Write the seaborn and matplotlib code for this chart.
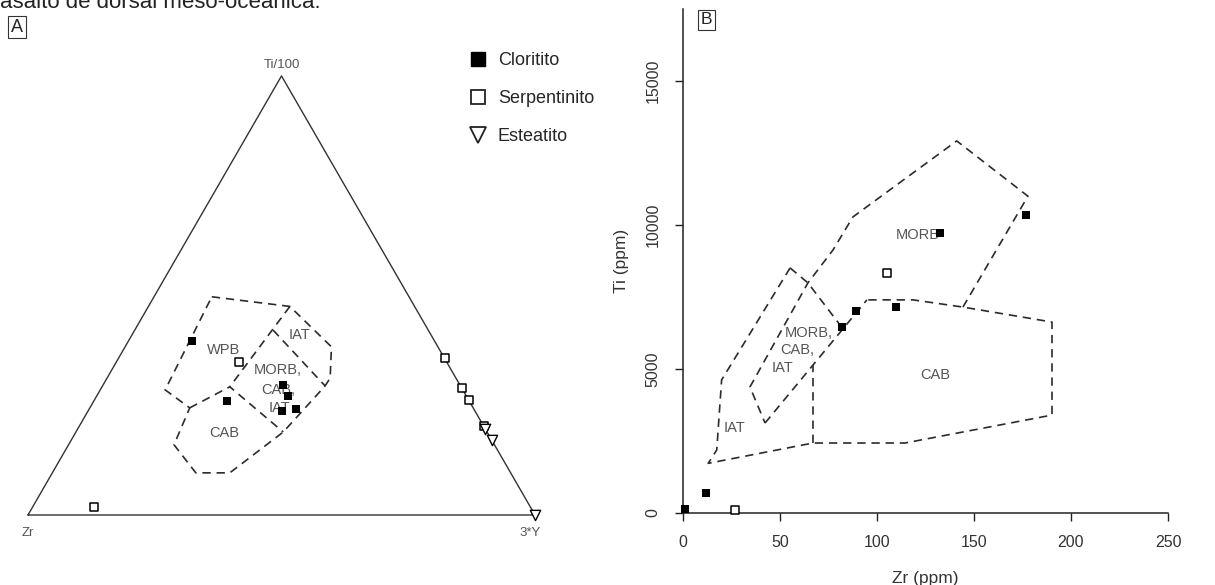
import numpy as np
import pandas as pd
import matplotlib
matplotlib.use("Agg")
import matplotlib.pyplot as plt
from matplotlib.lines import Line2D
import seaborn as sns

# ---- panel A: Ti/100 - Zr - 3*Y ternary (proportions in %) ----
# order of each list: Zr, Ti/100, 3*Y
clor_a_zr = [47.9, 47.7, 34.9, 35.1, 38.1, 35.0]
clor_a_ti = [39.7, 26.0, 29.6, 27.1, 23.7, 24.1]
clor_a_y = [12.4, 26.3, 35.5, 37.8, 38.2, 40.9]

serp_a_zr = [40.9, 86.1, 0.0, 0.0, 0.0, 0.0]
serp_a_ti = [34.9, 1.8, 35.7, 28.9, 26.2, 20.3]
serp_a_y = [24.2, 12.1, 64.3, 71.1, 73.8, 79.7]

este_a_zr = [0.0, 0.0, 0.0]
este_a_ti = [19.7, 17.1, 0.0]
este_a_y = [80.3, 82.9, 100.0]

# field boundaries (Pearce & Cann 1973), ternary %
outer_zr = [38.9, 24.6, 21.0, 24.8, 26.7, 40.2, 48.7, 55.4, 62.1, 63.2, 55.9, 58.7, 38.9]
outer_ti = [49.7, 47.5, 38.3, 31.2, 29.4, 18.9, 13.7, 9.6, 9.6, 16.0, 24.4, 28.5, 49.7]
outer_y = [11.4, 27.9, 40.7, 44.0, 43.9, 40.9, 37.6, 35.0, 28.3, 20.8, 19.7, 12.8, 11.4]

wpb_sep_zr = [24.6, 45.6]
wpb_sep_ti = [47.5, 29.2]
wpb_sep_y = [27.9, 25.2]

cab_top_zr = [55.9, 45.6, 40.2]
cab_top_ti = [24.4, 29.2, 18.9]
cab_top_y = [19.7, 25.2, 40.9]

iat_sep_zr = [30.6, 26.7]
iat_sep_ti = [42.1, 29.4]
iat_sep_y = [27.3, 43.9]

field_a_labels = ["WPB", "IAT", "MORB,", "CAB,", "IAT", "CAB"]
field_a_zr = [42.7, 26.0, 34.2, 36.5, 38.1, 52.0]
field_a_ti = [37.6, 41.0, 33.0, 28.5, 24.4, 18.7]
field_a_y = [19.7, 32.9, 32.8, 35.1, 37.5, 29.3]

# ---- panel B: Ti vs Zr (ppm) ----
clor_b_zr = [1, 12, 82, 89, 110, 132.5, 177]
clor_b_ti = [150, 700, 6450, 7020, 7140, 9720, 10350]
serp_b_zr = [105, 27]
serp_b_ti = [8340, 100]

outer_b_zr = [55.2, 19.9, 17.4, 13.0, 67, 114.4, 190.2, 190.2, 144.3, 118.6, 94.8]
outer_b_ti = [8510, 4620, 2190, 1725, 2430, 2430, 3400, 6630, 7150, 7400, 7400]
sep_b_zr = [42.3, 94.8]
sep_b_ti = [3125, 7400]
vert_b_zr = [67, 67]
vert_b_ti = [2430, 5150]
morb_b_zr = [144.3, 177.8, 141.1, 87.6, 77.3, 64.4, 34.5, 42.3]
morb_b_ti = [7150, 11000, 12920, 10280, 9130, 7990, 4375, 3125]
iat_b_zr = [55.2, 64.4, 82.5]
iat_b_ti = [8510, 7990, 6390]

field_b_labels = ["MORB", "MORB,", "CAB,", "IAT", "IAT", "CAB"]
field_b_zr = [121, 65, 59, 51.5, 26.3, 130]
field_b_ti = [9650, 6250, 5660, 5035, 2950, 4790]


def tern(zr, ti, y):
    zr, ti, y = np.asarray(zr, float), np.asarray(ti, float), np.asarray(y, float)
    s = zr + ti + y
    return (y + ti / 2) / s, ti / s * np.sqrt(3) / 2


sns.set_style("white")
plt.rcParams["font.family"] = ["Liberation Sans", "DejaVu Sans"]

W, H = 1215, 585
fig = plt.figure(figsize=(W / 100, H / 100), dpi=100)

dash = (0, (5, 3.5))
dcol = "#2b2b2b"
gcol = "#555555"

# ---------------- panel A ----------------
ax_a = fig.add_axes([0, 0, 600 / W, 1])
ax_a.set_xlim(-28 / 507, 572 / 507)
ax_a.set_ylim(-70 / 507, 515 / 507)
ax_a.axis("off")

tx, ty = tern([100, 0, 0, 100], [0, 100, 0, 0], [0, 0, 100, 0])
ax_a.plot(tx, ty, color="#333333", lw=1.0)

for zr, ti, y in [(outer_zr, outer_ti, outer_y), (wpb_sep_zr, wpb_sep_ti, wpb_sep_y),
                  (cab_top_zr, cab_top_ti, cab_top_y), (iat_sep_zr, iat_sep_ti, iat_sep_y)]:
    px, py = tern(zr, ti, y)
    ax_a.plot(px, py, color=dcol, lw=1.2, ls=dash)

lx, ly = tern(field_a_zr, field_a_ti, field_a_y)
for lab, x, y in zip(field_a_labels, lx, ly):
    ax_a.text(x, y, lab, fontsize=10.5, color=gcol, ha="center", va="center")

px, py = tern(serp_a_zr, serp_a_ti, serp_a_y)
sns.scatterplot(x=px, y=py, marker="s", s=40, color="white", edgecolor="black",
                linewidth=1.1, ax=ax_a, zorder=3, clip_on=False)
px, py = tern(este_a_zr, este_a_ti, este_a_y)
sns.scatterplot(x=px, y=py, marker="v", s=55, color="white", edgecolor="black",
                linewidth=1.0, ax=ax_a, zorder=3, clip_on=False)
px, py = tern(clor_a_zr, clor_a_ti, clor_a_y)
sns.scatterplot(x=px, y=py, marker="s", s=38, color="black", linewidth=0,
                ax=ax_a, zorder=4, clip_on=False)

ax_a.text(0.5, np.sqrt(3) / 2 + 0.022, "Ti/100", fontsize=9.5, color=gcol, ha="center", va="center")
ax_a.text(0.0, -0.036, "Zr", fontsize=9.5, color=gcol, ha="center", va="center")
ax_a.text(0.99, -0.036, "3*Y", fontsize=9.5, color=gcol, ha="center", va="center")

handles = [
    Line2D([], [], ls="", marker="s", markersize=9.5, color="black"),
    Line2D([], [], ls="", marker="s", markersize=9.5, markerfacecolor="white",
           markeredgecolor="#222222", markeredgewidth=1.3),
    Line2D([], [], ls="", marker="v", markersize=11, markerfacecolor="white",
           markeredgecolor="#222222", markeredgewidth=1.3),
]
ax_a.legend(handles, ["Cloritito", "Serpentinito", "Esteatito"], loc="upper left",
            bbox_to_anchor=(469 / W, 1 - 52 / H), bbox_transform=fig.transFigure,
            frameon=False, fontsize=13, labelspacing=1.17, handlelength=1.0,
            handletextpad=0.6, borderpad=0, borderaxespad=0)

# ---------------- panel B ----------------
ax_b = fig.add_axes([683 / W, 1 - 513 / H, 485 / W, 504 / H])
ax_b.set_xlim(0, 250)
ax_b.set_ylim(0, 17500)
sns.despine(ax=ax_b)
for sp in ["left", "bottom"]:
    ax_b.spines[sp].set_color("#222222")
    ax_b.spines[sp].set_linewidth(1.1)

for xs, ys in [(outer_b_zr, outer_b_ti), (sep_b_zr, sep_b_ti), (vert_b_zr, vert_b_ti),
               (morb_b_zr, morb_b_ti), (iat_b_zr, iat_b_ti)]:
    ax_b.plot(xs, ys, color=dcol, lw=1.2, ls=dash)

for lab, x, y in zip(field_b_labels, field_b_zr, field_b_ti):
    ax_b.text(x, y, lab, fontsize=10.5, color=gcol, ha="center", va="center")

sns.scatterplot(x=serp_b_zr, y=serp_b_ti, marker="s", s=36, color="white", edgecolor="black",
                linewidth=1.1, ax=ax_b, zorder=3, clip_on=False)
sns.scatterplot(x=clor_b_zr, y=clor_b_ti, marker="s", s=34, color="black", linewidth=0,
                ax=ax_b, zorder=4, clip_on=False)

ax_b.set_xticks([0, 50, 100, 150, 200, 250])
ax_b.set_yticks([0, 5000, 10000, 15000])
ax_b.tick_params(direction="out", length=6, width=1.0, color="#222222",
                 labelsize=11.5, labelcolor="#333333", pad=10, left=True, bottom=True)
for t in ax_b.get_yticklabels():
    t.set_rotation(90)
    t.set_va("center")
ax_b.set_xlabel("Zr (ppm)", fontsize=12.5, color="#333333", labelpad=15)
ax_b.set_ylabel("Ti (ppm)", fontsize=12.5, color="#333333", labelpad=12)

# panel tags and cropped caption line
box = dict(boxstyle="square,pad=0.15", facecolor="white", edgecolor="#333333", lw=0.8)
fig.text(17 / W, 1 - 27 / H, "A", fontsize=13, ha="center", va="center", bbox=box)
fig.text(706.5 / W, 1 - 20 / H, "B", fontsize=12.5, ha="center", va="center", bbox=box)
fig.text(0, 1 - 8.5 / H, "asalto de dorsal meso-oceânica.", fontsize=16, va="baseline",
         color="#222222")

fig.savefig("out.png", dpi=100)
